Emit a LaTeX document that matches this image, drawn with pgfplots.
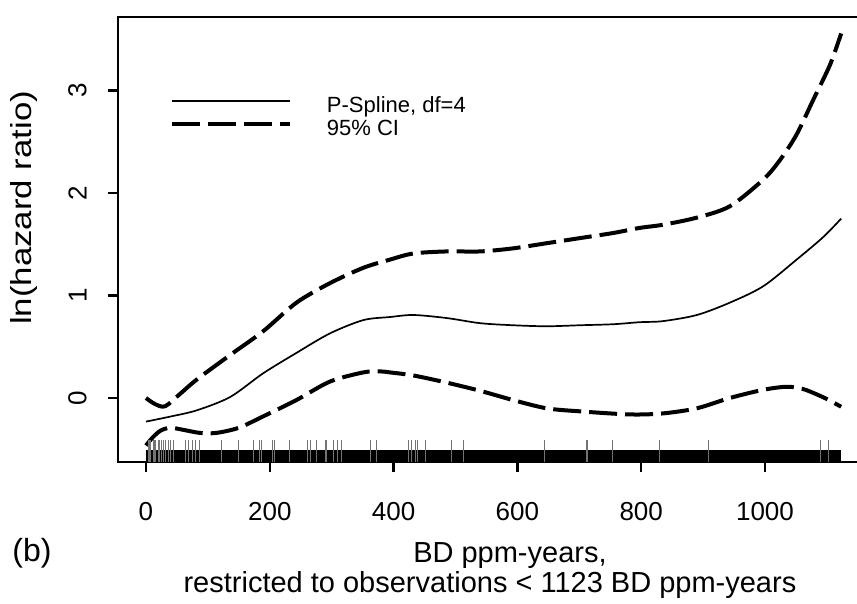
\documentclass[border=0pt]{standalone}
\usepackage{fontspec}
\setmainfont{Liberation Sans}
\newfontfamily\ylabfont[FakeStretch=1.2]{Liberation Sans}
\usepackage{pgfplots}
\pgfplotsset{compat=1.18}

\pgfplotstableread{
x y
0 -0.23
40 -0.18
82 -0.12
136 0.01
189 0.24
243 0.44
297 0.63
351 0.76
394 0.79
432 0.81
486 0.78
540 0.73
593 0.71
647 0.70
701 0.71
755 0.72
798 0.74
835 0.75
890 0.81
943 0.93
997 1.09
1051 1.35
1094 1.57
1123 1.75
}\fitdata

\pgfplotstableread{
x y
0 0.0
15 -0.06
31 -0.08
55 0.04
82 0.18
136 0.42
189 0.65
243 0.93
297 1.12
351 1.27
394 1.35
432 1.41
486 1.43
540 1.43
593 1.46
647 1.51
701 1.56
755 1.61
798 1.66
835 1.69
890 1.76
943 1.87
997 2.13
1024 2.32
1051 2.57
1078 2.91
1105 3.25
1123 3.556
}\upperdata

\pgfplotstableread{
x y
0 -0.463
10 -0.39
23 -0.32
39 -0.29
60 -0.31
87 -0.34
114 -0.34
150 -0.29
189 -0.18
243 -0.02
297 0.16
351 0.25
378 0.26
394 0.25
432 0.22
486 0.15
540 0.07
593 -0.02
647 -0.10
701 -0.13
782 -0.16
835 -0.15
890 -0.10
943 0.0
997 0.08
1035 0.11
1060 0.09
1078 0.05
1100 -0.01
1123 -0.085
}\lowerdata

\begin{document}
\begin{tikzpicture}
\begin{axis}[
  scale only axis,
  width=375.5pt, height=222.5pt,
  xmin=-45.2, xmax=1168, ymin=-0.624, ymax=3.717,
  axis line style={line width=1.2pt},
  xtick={0,200,400,600,800,1000}, ytick={0,1,2,3},
  tick pos=left, tick align=outside,
  major tick length=5pt,
  every tick/.style={line width=1.2pt, black},
  /pgf/number format/assume math mode=true,
  /pgf/number format/1000 sep={},
  ticklabel style={font=\fontsize{13}{15}\selectfont, inner sep=0pt},
  xticklabel style={anchor=north},
  xticklabel shift=15pt,
  yticklabel style={rotate=90, anchor=south},
  yticklabel shift=10.5pt,
  xlabel={\hspace*{20pt}BD ppm-years,\\restricted to observations < 1123 BD ppm-years},
  xlabel style={at={(rel axis cs:0.4953,0)}, anchor=north, yshift=-39.9pt, align=center, inner sep=0pt, font=\fontsize{14.5}{15}\selectfont},
  ylabel={ln(hazard ratio)},
  ylabel style={at={(rel axis cs:-0.1065,0.571)}, anchor=south, inner sep=0pt, font=\ylabfont\fontsize{14.5}{15}\selectfont},
  clip=false,
  legend style={draw=none, fill=none, at={(0.0692,0.825)}, anchor=north west, inner sep=0pt,
    font=\fontsize{11}{13}\selectfont, row sep=0pt,
    /tikz/every odd column/.style={column sep=17.3pt},
    nodes={inner sep=0pt, text height=8.5pt, text depth=3.2pt}},
  legend cell align=left,
  legend image code/.code={\draw[#1] (0pt,3pt) -- (59pt,3pt);},
]
% rug band
\addplot[fill=black, draw=none, forget plot] coordinates {(0,-0.624) (1123,-0.624) (1123,-0.507) (0,-0.507)} -- cycle;
% rug ticks
\addplot[only marks, mark=|, mark size=5.5pt, mark options={line width=0.5pt, draw=black!55}, forget plot] coordinates {
(3.8,-0.517) (6,-0.517) (8,-0.517) (11.8,-0.517) (14,-0.517) (16,-0.517) (19.9,-0.517) (22,-0.517)
(25,-0.517) (28,-0.517) (32,-0.517) (36,-0.517) (40,-0.517) (44,-0.517) (64,-0.517) (68,-0.517)
(75,-0.517) (80,-0.517) (87,-0.517) (122,-0.517) (149,-0.517) (174,-0.517) (183,-0.517) (187,-0.517)
(205,-0.517) (208,-0.517) (232,-0.517) (261,-0.517) (266,-0.517) (276,-0.517) (290,-0.517) (292,-0.517)
(303,-0.517) (309,-0.517) (316,-0.517) (362,-0.517) (373,-0.517) (424,-0.517) (429,-0.517) (435,-0.517)
(438,-0.517) (451,-0.517) (494,-0.517) (513,-0.517) (643,-0.517) (711,-0.517) (714,-0.517) (754,-0.517)
(829,-0.517) (908,-0.517) (1089,-0.517) (1102,-0.517)};
\addplot[black, line width=0.85pt, smooth] table[x=x,y=y] {\fitdata};
\addlegendentry{P-Spline, df=4}
\addplot[black, line width=2pt, smooth, dash pattern=on 14pt off 4pt] table[x=x,y=y] {\upperdata};
\addlegendentry{95\% CI}
\addplot[black, line width=2pt, smooth, dash pattern=on 14pt off 4pt, forget plot] table[x=x,y=y] {\lowerdata};
\end{axis}
\node[anchor=west, inner sep=0pt, font=\fontsize{16}{18}\selectfont] at ([shift={(-53pt,-45.5pt)}]current axis.south west) {(b)};
\pgfresetboundingbox
\path[use as bounding box] ([shift={(-59pt,-71pt)}]current axis.south west) rectangle ([shift={(369.5pt,231pt)}]current axis.south west);
\end{tikzpicture}
\end{document}
